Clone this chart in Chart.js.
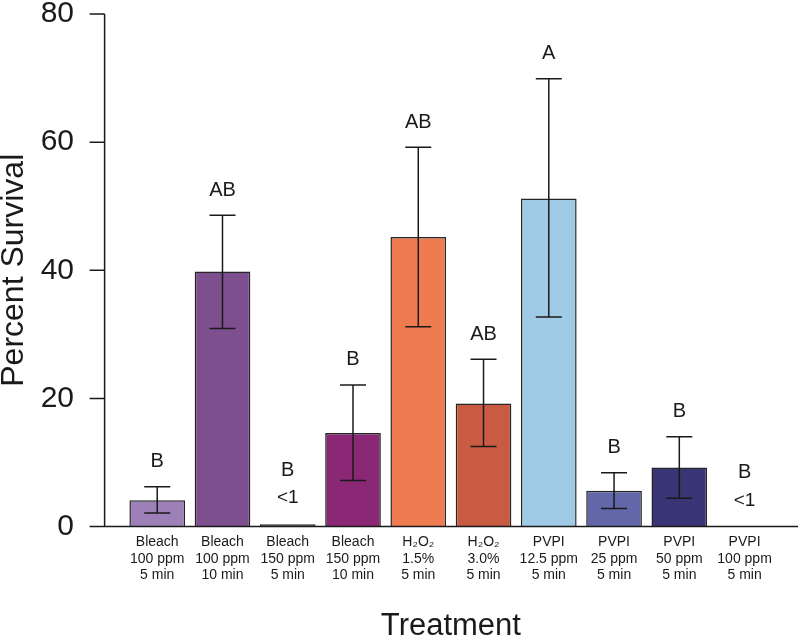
<!DOCTYPE html>
<html>
<head>
<meta charset="utf-8">
<script src="https://cdn.jsdelivr.net/npm/chart.js@4/dist/chart.umd.min.js"></script>
<style>
  body { margin: 0; background: #fff; }
  canvas { display: block; }
</style>
</head>
<body>
<canvas id="survivalChart" width="800" height="642"></canvas>
<script>
// ============================
// Data
// ============================
const treatments = [
  ["Bleach", "100 ppm", "5 min"],
  ["Bleach", "100 ppm", "10 min"],
  ["Bleach", "150 ppm", "5 min"],
  ["Bleach", "150 ppm", "10 min"],
  ["H₂O₂", "1.5%", "5 min"],
  ["H₂O₂", "3.0%", "5 min"],
  ["PVPI", "12.5 ppm", "5 min"],
  ["PVPI", "25 ppm", "5 min"],
  ["PVPI", "50 ppm", "5 min"],
  ["PVPI", "100 ppm", "5 min"]
];
const survival = [4.1, 39.8, 0.35, 14.6, 45.2, 19.2, 51.2, 5.6, 9.2, 0];
const errUpper = [6.2, 48.6, null, 22.1, 59.2, 26.1, 69.9, 8.4, 14.0, null];
const errLower = [2.1, 30.9, null, 7.2, 31.2, 12.5, 32.7, 2.8, 4.4, null];
const letters = ["B", "AB", "B", "B", "AB", "AB", "A", "B", "B", "B"];
const notes = ["", "", "<1", "", "", "", "", "", "", "<1"];
const yTicks = [0, 20, 40, 60, 80];

const barColors = [
  "#9d80b7", "#7e4f8f", "#3a1f3a", "#8a2876", "#ef7c51",
  "#c85b42", "#a0cbe6", "#6367a9", "#3a3574", "#ffffff"
];

const FONT = "'Liberation Sans', Arial, Helvetica, sans-serif";
const INK = "#1a1a1a";

// ============================
// Error bars, letters, axes
// ============================
const annotatePlugin = {
  id: "annotate",
  afterDatasetsDraw(chart) {
    const ctx = chart.ctx;
    const ys = chart.scales.y;
    const area = chart.chartArea;
    const meta = chart.getDatasetMeta(0);

    ctx.save();
    ctx.strokeStyle = INK;
    ctx.fillStyle = INK;
    ctx.lineWidth = 1.5;
    ctx.textAlign = "center";
    ctx.textBaseline = "middle";

    meta.data.forEach((bar, i) => {
      const cx = bar.x;
      let top;
      if (errUpper[i] != null) {
        const yu = ys.getPixelForValue(errUpper[i]);
        const yl = ys.getPixelForValue(errLower[i]);
        ctx.beginPath();
        ctx.moveTo(cx, yu); ctx.lineTo(cx, yl);
        ctx.moveTo(cx - 13, yu); ctx.lineTo(cx + 13, yu);
        ctx.moveTo(cx - 13, yl); ctx.lineTo(cx + 13, yl);
        ctx.stroke();
        top = yu - 25;
      } else {
        top = ys.getPixelForValue(survival[i]);
        if (notes[i]) {
          ctx.font = "19px " + FONT;
          top -= 26;
          ctx.fillText(notes[i], cx, top);
        }
        top -= 28;
      }
      ctx.font = "20px " + FONT;
      ctx.fillText(letters[i], cx, top);
    });

    // axes drawn offset from the bars
    const axisX = area.left - 20;
    const y0 = ys.getPixelForValue(0);
    ctx.beginPath();
    ctx.moveTo(axisX, ys.getPixelForValue(80));
    ctx.lineTo(axisX, y0);
    ctx.lineTo(chart.width - 2, y0);
    yTicks.forEach(v => {
      const ty = ys.getPixelForValue(v);
      ctx.moveTo(axisX - 15, ty);
      ctx.lineTo(axisX, ty);
    });
    ctx.stroke();
    ctx.restore();
  }
};

// ============================
// Chart
// ============================
new Chart(document.getElementById("survivalChart"), {
  type: "bar",
  data: {
    labels: treatments,
    datasets: [{
      data: survival,
      backgroundColor: barColors,
      borderColor: "#262626",
      borderWidth: (c) => (survival[c.dataIndex] > 0 ? 1.5 : 0),
      barPercentage: 0.853,
      categoryPercentage: 1
    }]
  },
  options: {
    responsive: false,
    animation: false,
    layout: { padding: { top: 14, right: 22.8, left: 0, bottom: 0 } },
    plugins: {
      legend: { display: false },
      tooltip: { enabled: false }
    },
    scales: {
      x: {
        grid: { display: false, drawTicks: false },
        border: { display: false },
        ticks: {
          color: INK,
          font: { family: FONT, size: 14, lineHeight: 1.2 },
          padding: 7,
          maxRotation: 0,
          autoSkip: false
        },
        title: {
          display: true,
          text: "Treatment",
          color: INK,
          font: { family: FONT, size: 31, lineHeight: 1 },
          padding: { top: 27, bottom: 0 }
        },
        afterFit: (s) => { s.height = 115.5; }
      },
      y: {
        min: 0,
        max: 80,
        grid: { display: false, drawTicks: true, tickLength: 50.6 },
        border: { display: false },
        ticks: {
          stepSize: 20,
          color: INK,
          font: { family: FONT, size: 30, lineHeight: 0.9 },
          padding: 0
        },
        title: {
          display: true,
          text: "Percent Survival",
          color: INK,
          font: { family: FONT, size: 32, lineHeight: 0.875 },
          padding: 0
        },
        afterFit: (s) => { s.width = 124.6; }
      }
    }
  },
  plugins: [annotatePlugin]
});
</script>
</body>
</html>
